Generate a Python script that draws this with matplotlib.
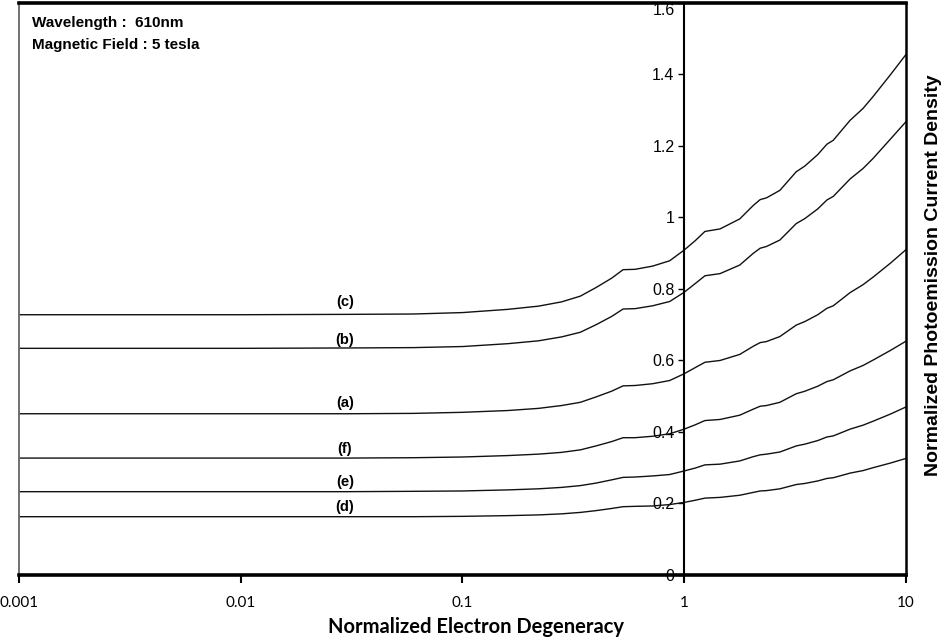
import numpy as np
import matplotlib.pyplot as plt
from matplotlib.ticker import FixedLocator, FuncFormatter, NullLocator

# normalized electron degeneracy (x)
degeneracy = [0.001, 0.01, 0.03, 0.06, 0.1, 0.16, 0.22, 0.28, 0.34, 0.40, 0.47,
              0.53, 0.60, 0.72, 0.86, 1.0, 1.12, 1.24, 1.45, 1.78, 2.05, 2.2,
              2.35, 2.7, 3.2, 3.5, 4.0, 4.4, 4.7, 5.6, 6.4, 7.1, 8.5, 10.0]

curve_c = [0.728, 0.728, 0.729, 0.730, 0.734, 0.743, 0.752, 0.764, 0.780, 0.804, 0.830,
           0.854, 0.855, 0.864, 0.879, 0.909, 0.935, 0.961, 0.968, 0.996, 1.034, 1.050,
           1.055, 1.076, 1.128, 1.144, 1.176, 1.205, 1.216, 1.272, 1.305, 1.338, 1.399, 1.456]
curve_b = [0.634, 0.634, 0.635, 0.636, 0.639, 0.647, 0.655, 0.666, 0.679, 0.700, 0.723,
           0.744, 0.745, 0.753, 0.765, 0.791, 0.815, 0.837, 0.843, 0.867, 0.900, 0.914,
           0.919, 0.937, 0.983, 0.997, 1.024, 1.049, 1.059, 1.108, 1.137, 1.165, 1.219, 1.268]
curve_a = [0.451, 0.451, 0.451, 0.452, 0.455, 0.460, 0.466, 0.474, 0.483, 0.498, 0.514,
           0.529, 0.530, 0.535, 0.544, 0.563, 0.580, 0.595, 0.600, 0.617, 0.640, 0.650,
           0.653, 0.667, 0.699, 0.709, 0.728, 0.746, 0.753, 0.790, 0.812, 0.833, 0.872, 0.910]
curve_f = [0.327, 0.327, 0.327, 0.328, 0.330, 0.334, 0.338, 0.343, 0.350, 0.361, 0.373,
           0.384, 0.384, 0.388, 0.395, 0.408, 0.420, 0.432, 0.435, 0.447, 0.464, 0.472,
           0.474, 0.483, 0.507, 0.514, 0.528, 0.541, 0.546, 0.571, 0.586, 0.601, 0.628, 0.654]
curve_e = [0.233, 0.233, 0.233, 0.234, 0.235, 0.238, 0.241, 0.245, 0.250, 0.257, 0.266,
           0.273, 0.274, 0.277, 0.281, 0.291, 0.299, 0.308, 0.310, 0.319, 0.331, 0.336,
           0.338, 0.344, 0.361, 0.366, 0.376, 0.386, 0.389, 0.408, 0.419, 0.430, 0.450, 0.470]
curve_d = [0.163, 0.163, 0.163, 0.163, 0.164, 0.166, 0.168, 0.171, 0.175, 0.180, 0.186,
           0.191, 0.192, 0.193, 0.197, 0.203, 0.209, 0.215, 0.217, 0.223, 0.231, 0.235,
           0.236, 0.241, 0.253, 0.256, 0.263, 0.270, 0.272, 0.285, 0.292, 0.300, 0.313, 0.326]

curves = [curve_c, curve_b, curve_a, curve_f, curve_e, curve_d]
curve_names = ['(c)', '(b)', '(a)', '(f)', '(e)', '(d)']
name_offsets = [0.035, 0.024, 0.031, 0.025, 0.028, 0.028]
name_x = 0.0295

x_ticks = [0.001, 0.01, 0.1, 1, 10]
y_ticks = [0, 0.2, 0.4, 0.6, 0.8, 1.0, 1.2, 1.4, 1.6]

fig = plt.figure(figsize=(9.46, 6.39), dpi=100)
ax = fig.add_axes([0.0201, 0.1002, 0.9376, 0.8951])

for ys in curves:
    ax.plot(degeneracy, ys, color='#111111', lw=1.0)

for ys, name, off in zip(curves, curve_names, name_offsets):
    ax.text(name_x, ys[0] + off, name, ha='center', va='center',
            fontsize=10.5, fontweight='bold', family='Liberation Sans')

ax.set_xscale('log')
ax.set_xlim(0.001, 10)
ax.set_ylim(0, 1.6)

# y axis sits at x = 1
ax.spines['left'].set_position(('data', 1))
ax.spines['left'].set_linewidth(1.5)
ax.spines['top'].set_linewidth(2.6)
ax.spines['bottom'].set_linewidth(2.6)
ax.spines['right'].set_linewidth(1.8)
ax.plot([0, 0], [0, 1], transform=ax.transAxes, color='#666666', lw=1.3, clip_on=False)

ax.xaxis.set_major_locator(FixedLocator(x_ticks))
ax.xaxis.set_minor_locator(NullLocator())
ax.xaxis.set_major_formatter(FuncFormatter(lambda v, p: '%g' % v))
ax.yaxis.set_major_locator(FixedLocator(y_ticks))
ax.yaxis.set_major_formatter(FuncFormatter(lambda v, p: '%g' % v))

ax.tick_params(axis='x', direction='out', length=6, width=1.5, pad=9, labelsize=11)
ax.tick_params(axis='y', direction='out', length=4, width=1.0, pad=3, labelsize=11.5)
for lab in ax.get_xticklabels():
    lab.set_family('Lato')
for lab in ax.get_yticklabels():
    lab.set_family('Liberation Sans')
# keep the top label inside the frame
ax.yaxis.get_major_ticks()[-1].label1.set_verticalalignment('top')

fig.text(476 / 946, 1 - 627 / 639, 'Normalized Electron Degeneracy', fontsize=14.5,
         fontweight='bold', family='Lato', ha='center', va='center')
fig.text(933 / 946, 1 - 275 / 639, 'Normalized Photoemission Current Density',
         rotation=90, ha='center', va='center', fontsize=14, fontweight='bold',
         family='Liberation Sans')

fig.text(32 / 946, 1 - 23 / 639, 'Wavelength :  610nm', fontsize=11, fontweight='bold',
         family='Liberation Sans', va='center')
fig.text(32 / 946, 1 - 45 / 639, 'Magnetic Field : 5 tesla', fontsize=11, fontweight='bold',
         family='Liberation Sans', va='center')

fig.savefig('out.png', dpi=100)
